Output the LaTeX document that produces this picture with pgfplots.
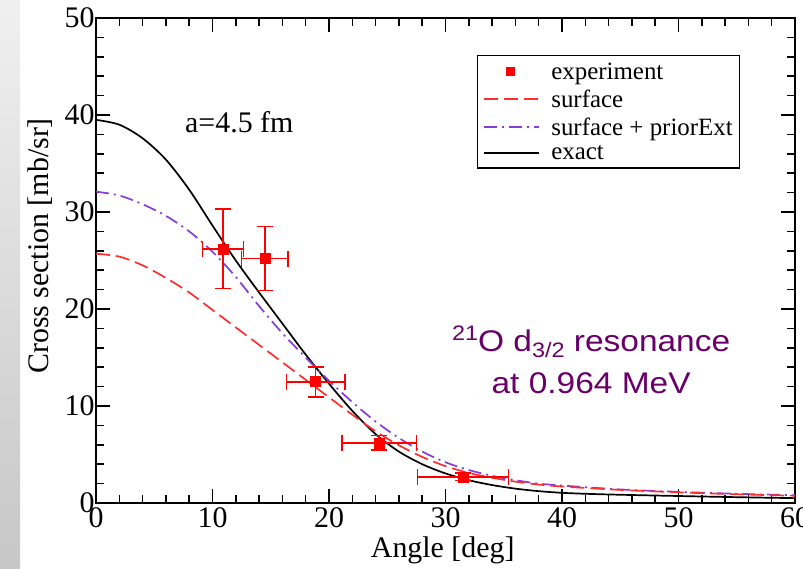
\documentclass[border=0pt]{standalone}
\usepackage{fontspec}
\setmainfont{Liberation Serif}
\newfontfamily\annotfont[FakeStretch=1.12]{Liberation Sans}
\usepackage{pgfplots}
\usepackage{pgfplotstable}
\pgfplotsset{compat=1.18}

\definecolor{exppt}{RGB}{255,0,0}
\definecolor{surfred}{RGB}{255,45,45}
\definecolor{prior}{RGB}{135,60,215}
\definecolor{annot}{RGB}{105,0,105}

% legend samples: a long line for curves, a single mark for data
\pgfplotsset{
  long line sample/.style={legend image code/.code={\draw[##1] (0bp,0bp) -- (55bp,0bp);}},
  single mark sample/.style={legend image code/.code={\draw[##1, mark size=4bp] plot coordinates {(27bp,0bp)};}},
}

% measured cross sections with angular and statistical uncertainties
\pgfplotstableread{
x     y     ex   ey
10.9  26.2  1.75 4.1
14.5  25.2  2.0  3.3
18.85 12.5  2.5  1.55
24.3  6.2   3.2  0.75
31.5  2.7   3.9  0.4
}\experiment

% calculated angular distributions, a = 4.5 fm
\pgfplotstableread{
x   y
0   25.7
2   25.4
4   24.5
6   23.2
8   21.7
10  19.9
12  18.1
14  16.3
16  14.5
18  12.7
20  10.9
22  9.1
24  7.4
26  5.95
28  4.75
30  3.8
32  3.1
34  2.6
36  2.2
38  1.9
40  1.7
45  1.35
50  1.1
55  0.9
60  0.75
}\surface

\pgfplotstableread{
x   y
0   32.1
2   31.7
4   30.8
6   29.6
8   28.0
10  25.9
12  23.3
14  20.3
16  17.5
18  15.0
20  12.6
22  10.4
24  8.4
26  6.7
28  5.3
30  4.2
32  3.4
34  2.8
36  2.35
38  2.0
40  1.8
45  1.4
50  1.15
55  0.95
60  0.8
}\priorext

\pgfplotstableread{
x   y
0   39.5
2   39.0
4   37.6
6   35.4
8   32.3
10  28.6
12  25.0
14  21.7
16  18.5
18  15.3
20  12.3
22  9.5
24  7.1
26  5.3
28  4.0
30  3.05
32  2.35
34  1.85
36  1.48
38  1.22
40  1.05
42  0.95
45  0.85
50  0.72
55  0.6
60  0.5
}\exact

\begin{document}
\begin{tikzpicture}[x=1bp,y=1bp]
\useasboundingbox (0,0) rectangle (803,569);
\shade[top color=black!6, bottom color=black!22] (0,0) rectangle (20,569);
\begin{axis}[
  at={(96bp,66bp)}, anchor=south west,
  scale only axis, width=699bp, height=485bp,
  xmin=0, xmax=60, ymin=0, ymax=50,
  xtick={0,10,...,60}, ytick={0,10,...,50},
  minor x tick num=4, minor y tick num=4,
  tick align=inside,
  major tick length=14bp, minor tick length=8bp,
  every tick/.style={black, line width=1.5bp},
  axis line style={black, line width=1.8bp},
  /pgf/number format/assume math mode=true,
  ticklabel style={font=\fontsize{30}{30}\selectfont},
  xticklabel style={yshift=-1bp},
  yticklabel style={xshift=2bp},
  xlabel={Angle [deg]},
  ylabel={Cross section [mb/sr]},
  label style={font=\fontsize{30}{30}\selectfont},
  xlabel style={at={(axis description cs:0.496,-0.097)}, anchor=center},
  ylabel style={at={(axis description cs:-0.080,0.53)}, anchor=center},
  legend style={at={(axis description cs:0.545,0.924)}, anchor=north west,
    draw=black, line width=1.4bp, fill=white,
    font=\fontsize{25}{26}\selectfont,
    inner xsep=5bp, inner ysep=5bp, row sep=5bp,
    /tikz/every odd column/.append style={column sep=10bp},
    cells={anchor=west}},
  long line sample,
  reverse legend,
]
\addplot[black, line width=1.7bp, smooth, tension=0.5] table {\exact};
\addlegendentry{exact}
\addplot[prior, line width=1.7bp, dash pattern=on 13bp off 5bp on 2bp off 5bp, smooth, tension=0.5] table {\priorext};
\addlegendentry{surface + priorExt}
\addplot[surfred, line width=1.7bp, dash pattern=on 14bp off 6bp, smooth, tension=0.5] table {\surface};
\addlegendentry{surface}
\addplot[exppt, only marks, mark=square*, mark size=5bp,
  mark options={fill=exppt, draw=exppt, line width=0.5bp},
  single mark sample,
  error bars/.cd, x dir=both, y dir=both, x explicit, y explicit,
  error bar style={exppt, line width=1.6bp},
  error mark options={exppt, line width=1.6bp, mark size=8bp, rotate=90},
  ] table[x=x, y=y, x error=ex, y error=ey] {\experiment};
\addlegendentry{experiment}

\node[font=\fontsize{30}{30}\selectfont] at (axis cs:12.3,39.3) {a=4.5 fm};
\node[annot, font=\annotfont\fontsize{30}{42}\selectfont, align=center]
  at (axis cs:42.5,14.8) {{\fontsize{21}{21}\selectfont\raisebox{11bp}{21}}O d{\fontsize{21}{21}\selectfont\raisebox{-6bp}{3/2}} resonance\\at 0.964 MeV};
\end{axis}
\end{tikzpicture}
\end{document}
